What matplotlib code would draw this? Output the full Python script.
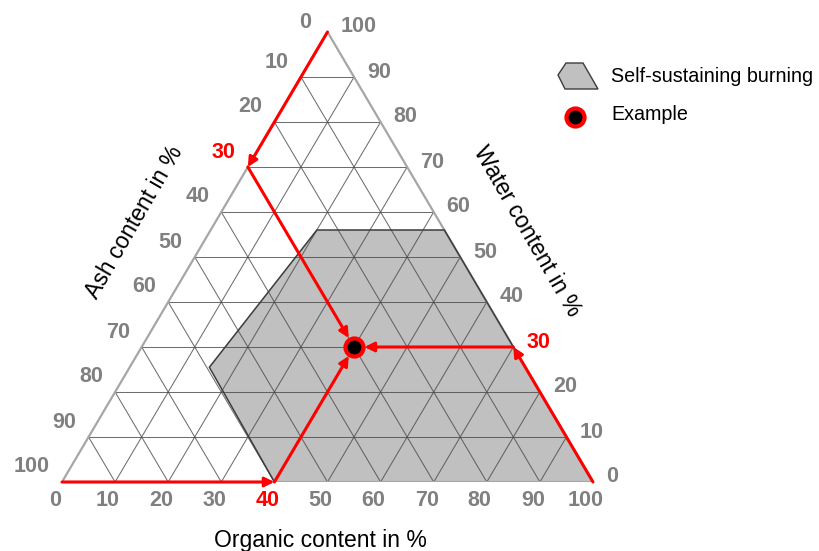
import matplotlib
matplotlib.use("Agg")
import matplotlib.pyplot as plt
from matplotlib.patches import Polygon
from matplotlib.lines import Line2D
from matplotlib.transforms import offset_copy

plt.rcParams['font.family'] = ['Liberation Sans', 'DejaVu Sans']

# ---- data -------------------------------------------------------------
tick_values = [0, 10, 20, 30, 40, 50, 60, 70, 80, 90, 100]

# self-sustaining burning region, corners as (organic %, water %)
region_organic = [40, 15, 20, 44, 100]
region_water = [0, 25.5, 56, 56, 0]

# worked example
example_organic = 40
example_water = 30
example_ash = 30

GRAY_TXT = '#808080'
RED = '#ff0000'


def to_xy(organic, water):
    """Ternary (organic, water) -> cartesian; ash = 100 - organic - water."""
    return (organic + 0.5 * water) / 100.0, water / 100.0


W, H = 819, 551
fig = plt.figure(figsize=(W / 100, H / 100), dpi=100)
ax = fig.add_axes([62 / W, 69 / H, 531 / W, 450 / H])
ax.set_xlim(0, 1)
ax.set_ylim(0, 1)
ax.axis('off')

# region
reg = [to_xy(o, w) for o, w in zip(region_organic, region_water)]
ax.add_patch(Polygon(reg, closed=True, facecolor='#c0c0c0', edgecolor='none', zorder=1))

# grid lines every 10 %
for v in tick_values[1:-1]:
    for (o0, w0), (o1, w1) in [((0, v), (100 - v, v)),          # constant water
                               ((v, 0), (v, 100 - v)),          # constant organic
                               ((100 - v, 0), (0, 100 - v))]:   # constant ash
        x0, y0 = to_xy(o0, w0)
        x1, y1 = to_xy(o1, w1)
        ax.plot([x0, x1], [y0, y1], color='#4a4a4a', lw=0.75, alpha=0.8, zorder=2)

# triangle outline
tri = [to_xy(0, 0), to_xy(100, 0), to_xy(0, 100)]
ax.add_patch(Polygon(tri, closed=True, fill=False, edgecolor='#a6a6a6', lw=1.6, zorder=2.4))

# region border on its inner sides
bx, by = zip(*[to_xy(o, w) for o, w in zip(region_organic[::-1], region_water[::-1])])
ax.plot(bx, by, color='#3c3c3c', lw=1.1, zorder=2.5)

# reading paths for the example
ex = to_xy(example_organic, example_water)
left_pt = to_xy(0, 100 - example_ash)
bottom_pt = to_xy(example_organic, 0)
right_pt = to_xy(100 - example_water, example_water)
paths = [
    (to_xy(0, 100), left_pt, 0),
    (left_pt, ex, 7.5),
    (to_xy(0, 0), bottom_pt, 0),
    (bottom_pt, ex, 7.5),
    (to_xy(100, 0), right_pt, 0),
    (right_pt, ex, 7.5),
]
for start, end, shrink in paths:
    ax.annotate('', xy=end, xytext=start, zorder=4,
                arrowprops=dict(arrowstyle='-|>', color=RED, lw=2.2,
                                mutation_scale=14, shrinkA=0, shrinkB=shrink))

ax.plot([ex[0]], [ex[1]], marker='o', ms=13, mfc='black', mec=RED, mew=3,
        zorder=5, clip_on=False)

# tick labels
for v in tick_values:
    # bottom axis: organic
    t = offset_copy(ax.transData, fig=fig, x=-7, y=-18, units='dots')
    x, y = to_xy(v, 0)
    ax.text(x, y, str(v), transform=t, ha='center', va='center',
            fontsize=15.5, fontweight='bold',
            color=RED if v == example_organic else GRAY_TXT)
    # right axis: water
    t = offset_copy(ax.transData, fig=fig, x=13, y=5, units='dots')
    x, y = to_xy(100 - v, v)
    ax.text(x, y, str(v), transform=t, ha='left', va='center',
            fontsize=15.5, fontweight='bold',
            color=RED if v == example_water else GRAY_TXT)
    # left axis: ash
    dy = 9 if v == 0 else 15
    dx = -16 if v == 0 else -12
    t = offset_copy(ax.transData, fig=fig, x=dx, y=dy, units='dots')
    x, y = to_xy(0, 100 - v)
    ax.text(x, y, str(v), transform=t, ha='right', va='center',
            fontsize=15.5, fontweight='bold',
            color=RED if v == example_ash else GRAY_TXT)

# axis titles
fig.text(134 / W, 1 - 222 / H, 'Ash content in %', rotation=60,
         ha='center', va='center', fontsize=16.5, color='black')
fig.text(527 / W, 1 - 231 / H, 'Water content in %', rotation=-60,
         ha='center', va='center', fontsize=16.5, color='black')
fig.text(320 / W, 1 - 540 / H, 'Organic content in %',
         ha='center', va='center', fontsize=16.5, color='black')

# legend
lg = fig.add_axes([0, 0, 1, 1])
lg.set_xlim(0, W)
lg.set_ylim(H, 0)
lg.axis('off')
lg.patch.set_alpha(0)
icon = [(558, 75), (566, 63), (583, 63), (598, 89), (565, 89)]
lg.add_patch(Polygon(icon, closed=True, facecolor='#c0c0c0', edgecolor='#3c3c3c', lw=1.0))
lg.text(611, 76, 'Self-sustaining burning', ha='left', va='center', fontsize=14.2)
lg.add_line(Line2D([575], [117], marker='o', ms=13, mfc='black', mec=RED, mew=3))
lg.text(611, 115, 'Example', ha='left', va='center', fontsize=14.2)

fig.savefig('out.png', dpi=100)
